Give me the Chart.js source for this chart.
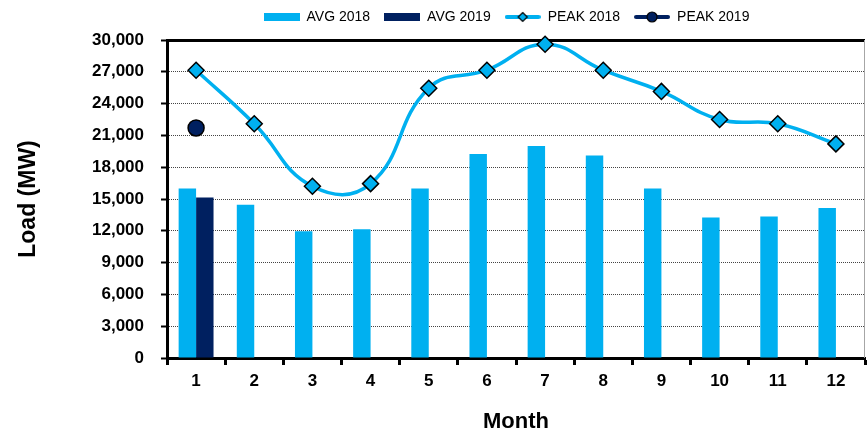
<!DOCTYPE html>
<html>
<head>
<meta charset="utf-8">
<script src="https://cdn.jsdelivr.net/npm/chart.js@4"></script>
<style>
  body { margin: 0; background: #fff; }
</style>
</head>
<body>
<canvas id="load" width="867" height="436"></canvas>
<script>
// data
const months = ["1", "2", "3", "4", "5", "6", "7", "8", "9", "10", "11", "12"];
const avg2018 = [16000, 14450, 11950, 12150, 16000, 19250, 20000, 19100, 16000, 13250, 13350, 14150];
const avg2019 = [15150, null, null, null, null, null, null, null, null, null, null, null];
const peak2018 = [27150, 22100, 16200, 16450, 25450, 27150, 29600, 27150, 25150, 22500, 22100, 20200];
const peak2019 = [21700, null, null, null, null, null, null, null, null, null, null, null];
const yTicks = [0, 3000, 6000, 9000, 12000, 15000, 18000, 21000, 24000, 27000, 30000];

const LIGHT = "#00B0F0";
const NAVY = "#002060";
const FONT = "'Liberation Sans', Arial, sans-serif";

// little legend markers
function marker(kind, color) {
  const c = document.createElement("canvas");
  c.width = 36;
  c.height = 12;
  const g = c.getContext("2d");
  if (kind === "bar") {
    g.fillStyle = color;
    g.fillRect(0, 2, 36, 8);
    return c;
  }
  g.strokeStyle = color;
  g.lineWidth = 4;
  g.lineCap = "round";
  g.beginPath();
  g.moveTo(2, 6);
  g.lineTo(34, 6);
  g.stroke();
  g.fillStyle = color;
  g.strokeStyle = "#000";
  g.lineWidth = 1.2;
  g.beginPath();
  if (kind === "diamond") {
    g.moveTo(18, 1.5);
    g.lineTo(22.5, 6);
    g.lineTo(18, 10.5);
    g.lineTo(13.5, 6);
    g.closePath();
  } else {
    g.arc(18, 6, 5, 0, Math.PI * 2);
  }
  g.fill();
  g.stroke();
  return c;
}
const legendMarks = [marker("bar", LIGHT), marker("bar", NAVY), marker("diamond", LIGHT), marker("circle", NAVY)];

const frame = {
  id: "frame",
  afterLayout(chart) {
    // legend sits centred over the plot, not the canvas
    const l = chart.legend;
    l.left += 74;
    l.right += 74;
    l.top -= 6;
    l.bottom -= 6;
  },
  afterDraw(chart) {
    const { ctx, chartArea: a } = chart;
    ctx.save();
    ctx.strokeStyle = "#a6a6a6";
    ctx.lineWidth = 1;
    ctx.beginPath();
    ctx.moveTo(a.right - 0.5, a.top);
    ctx.lineTo(a.right - 0.5, a.bottom);
    ctx.stroke();
    ctx.restore();
  },
};

new Chart(document.getElementById("load"), {
  data: {
    labels: months,
    datasets: [
      {
        type: "bar",
        label: "AVG 2018",
        data: avg2018,
        backgroundColor: LIGHT,
        order: 2,
      },
      {
        type: "bar",
        label: "AVG 2019",
        data: avg2019,
        backgroundColor: NAVY,
        order: 2,
      },
      {
        type: "line",
        label: "PEAK 2018",
        data: peak2018,
        borderColor: LIGHT,
        borderWidth: 3.5,
        tension: 0.45,
        pointStyle: "rectRot",
        pointRadius: 8,
        pointBackgroundColor: LIGHT,
        pointBorderColor: "#000",
        pointBorderWidth: 1.5,
        clip: false,
        order: 1,
      },
      {
        type: "line",
        label: "PEAK 2019",
        data: peak2019,
        showLine: false,
        borderColor: NAVY,
        pointStyle: "circle",
        pointRadius: 8,
        pointBackgroundColor: NAVY,
        pointBorderColor: "#000",
        pointBorderWidth: 1.5,
        order: 1,
      },
    ],
  },
  options: {
    responsive: false,
    devicePixelRatio: 1,
    animation: false,
    layout: {
      autoPadding: false,
      padding: { top: 2, right: 2, bottom: 0, left: 0 },
    },
    datasets: {
      bar: {
        categoryPercentage: 0.6,
        barPercentage: 1.0,
      },
    },
    plugins: {
      tooltip: { enabled: false },
      legend: {
        position: "top",
        labels: {
          color: "#000",
          font: { family: FONT, size: 14 },
          usePointStyle: true,
          pointStyleWidth: 36,
          boxHeight: 10,
          padding: 14,
          sort: (a, b) => a.datasetIndex - b.datasetIndex,
          generateLabels(chart) {
            const items = Chart.defaults.plugins.legend.labels.generateLabels(chart);
            items.forEach((item) => {
              item.pointStyle = legendMarks[item.datasetIndex];
            });
            return items;
          },
        },
      },
    },
    scales: {
      x: {
        offset: true,
        afterFit(scale) {
          scale.height = 78;
          scale.paddingLeft = 0;
          scale.paddingRight = 0;
        },
        grid: {
          offset: true,
          drawOnChartArea: false,
          drawTicks: true,
          tickLength: 7,
          tickWidth: 3,
          tickColor: "#000",
        },
        border: { color: "#000", width: 3 },
        ticks: {
          color: "#000",
          padding: 6,
          font: { family: FONT, size: 17, weight: "bold" },
        },
        title: {
          display: true,
          text: "Month",
          color: "#000",
          font: { family: FONT, size: 22, weight: "bold" },
          padding: { top: 0, bottom: 1 },
        },
      },
      y: {
        min: 0,
        max: 30000,
        afterFit(scale) {
          scale.width = 167;
        },
        afterBuildTicks(scale) {
          scale.ticks = yTicks.map((v) => ({ value: v }));
        },
        grid: {
          color: (ctx) => (ctx.tick && ctx.tick.value === 30000 ? "#000" : "#444"),
          lineWidth: (ctx) => (ctx.tick && ctx.tick.value === 30000 ? 3 : 1),
          tickLength: 6,
          tickWidth: 2,
          tickColor: "#000",
        },
        border: {
          color: "#000",
          width: 3,
          dash: (ctx) => (ctx.tick && ctx.tick.value === 30000 ? [] : [1, 1]),
        },
        ticks: {
          color: "#000",
          padding: 17,
          font: { family: FONT, size: 17, weight: "bold" },
          callback: (v) => Number(v).toLocaleString("en-US"),
        },
        title: {
          display: true,
          text: "Load (MW)",
          color: "#000",
          font: { family: FONT, size: 23, weight: "bold" },
          padding: { top: 15, bottom: 0 },
        },
      },
    },
  },
  plugins: [frame],
});
</script>
</body>
</html>
